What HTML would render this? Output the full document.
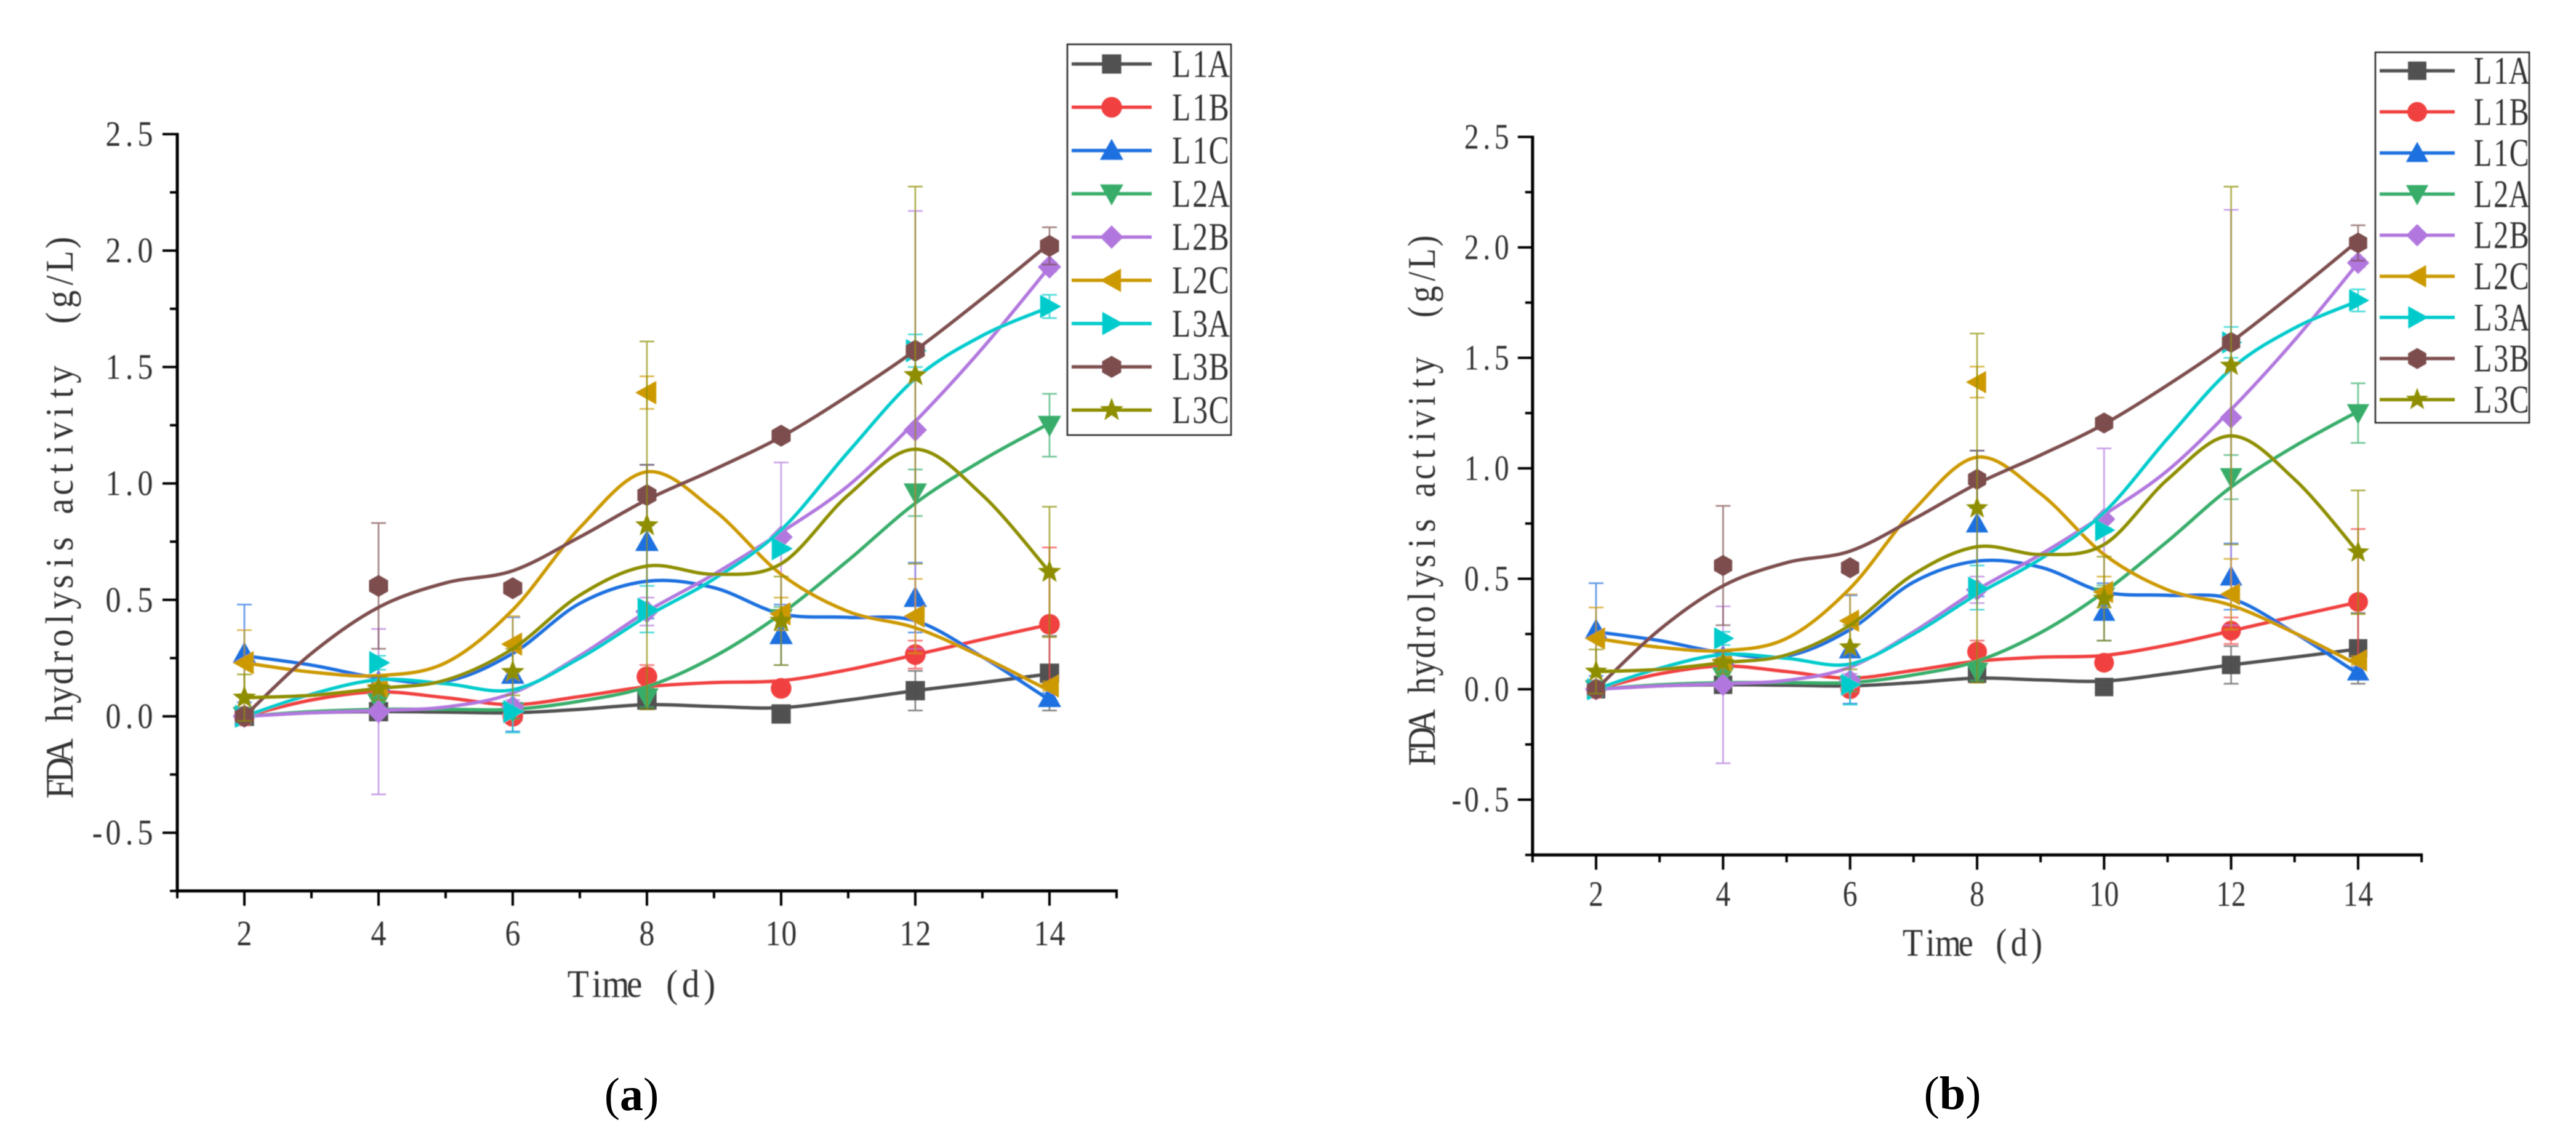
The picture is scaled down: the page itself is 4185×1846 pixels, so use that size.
<!DOCTYPE html>
<html lang="en">
<head>
<meta charset="utf-8">
<title>FDA hydrolysis activity charts</title>
<style>
html,body{margin:0;padding:0;background:#fff;}
svg{display:block;}
text{font-family:"Liberation Serif","Noto Serif CJK SC",serif;white-space:pre;}
</style>
</head>
<body>
<svg id="figure" xmlns="http://www.w3.org/2000/svg" width="4185" height="1846" viewBox="0 0 4185 1846">
  <defs><filter id="soft" x="-5%" y="-5%" width="110%" height="110%"><feGaussianBlur stdDeviation="0.9"/></filter></defs>
  <rect width="4185" height="1846" fill="#ffffff"/>
  <g id="panel-a" filter="url(#soft)"></g>
  <g id="panel-b" filter="url(#soft)"></g>
  <text x="1026" y="1804" font-size="76" text-anchor="middle" fill="#000">(<tspan font-weight="bold">a</tspan>)</text>
  <text x="3172" y="1802" font-size="76" text-anchor="middle" fill="#000">(<tspan font-weight="bold">b</tspan>)</text>
</svg>
<script>
const days = [2, 4, 6, 8, 10, 12, 14];
const curveDays = [2, 3, 4, 5, 6, 7, 8, 9, 10, 11, 12, 13, 14];
const xTickLabels = ["2", "4", "6", "8", "10", "12", "14"];
const yTickValues = [-0.5, 0, 0.5, 1, 1.5, 2, 2.5];
const yTickLabels = ["-0.5", "0.0", "0.5", "1.0", "1.5", "2.0", "2.5"];

const l1aMeans = [0, 0.02, 0.02, 0.07, 0.01, 0.11, 0.185];
const l1bMeans = [0, 0.105, 0, 0.17, 0.12, 0.265, 0.395];
const l1cMeans = [0.27, 0.15, 0.18, 0.75, 0.35, 0.51, 0.08];
const l2aMeans = [0, 0.06, 0.02, 0.08, 0.42, 0.96, 1.25];
const l2bMeans = [0, 0.02, 0.04, 0.45, 0.77, 1.23, 1.93];
const l2cMeans = [0.23, 0.13, 0.31, 1.39, 0.44, 0.43, 0.13];
const l3aMeans = [0, 0.23, 0.02, 0.46, 0.72, 1.57, 1.76];
const l3bMeans = [0, 0.56, 0.55, 0.95, 1.205, 1.57, 2.02];
const l3cMeans = [0.08, 0.12, 0.19, 0.82, 0.41, 1.465, 0.62];

const l1aErrors = [0, 0.01, 0.02, 0.04, 0.01, 0.085, 0.16];
const l1bErrors = [0, 0, 0.02, 0.05, 0.03, 0.06, 0.33];
const l1cErrors = [0.21, 0.01, 0.245, 0.33, 0.13, 0.15, 0.02];
const l2aErrors = [0.03, 0.02, 0.03, 0.04, 0.05, 0.1, 0.135];
const l2bErrors = [0, 0.355, 0.03, 0.06, 0.32, 0.94, 0.02];
const l2cErrors = [0.14, 0.02, 0.12, 0.07, 0.07, 0.16, 0.02];
const l3aErrors = [0.03, 0.03, 0.09, 0.1, 0.01, 0.07, 0.05];
const l3bErrors = [0.02, 0.27, 0.02, 0.13, 0.01, 0.01, 0.08];
const l3cErrors = [0.1, 0.05, 0.1, 0.79, 0.19, 0.81, 0.28];

const l1aCurve = [0, 0.015, 0.02, 0.018, 0.015, 0.03, 0.05, 0.042, 0.037, 0.07, 0.11, 0.145, 0.182];
const l1bCurve = [0, 0.07, 0.105, 0.08, 0.05, 0.085, 0.127, 0.145, 0.153, 0.2, 0.264, 0.33, 0.394];
const l1cCurve = [0.26, 0.22, 0.165, 0.15, 0.27, 0.485, 0.58, 0.552, 0.44, 0.425, 0.41, 0.255, 0.07];
const l2aCurve = [0, 0.02, 0.03, 0.03, 0.03, 0.065, 0.127, 0.256, 0.44, 0.67, 0.915, 1.1, 1.258];
const l2bCurve = [0, 0.015, 0.025, 0.04, 0.1, 0.26, 0.45, 0.61, 0.79, 0.99, 1.266, 1.58, 1.93];
const l2cCurve = [0.23, 0.19, 0.175, 0.23, 0.457, 0.81, 1.05, 0.885, 0.61, 0.45, 0.38, 0.255, 0.11];
const l3aCurve = [0, 0.095, 0.157, 0.14, 0.114, 0.25, 0.43, 0.59, 0.8, 1.135, 1.45, 1.635, 1.757];
const l3bCurve = [0, 0.27, 0.468, 0.573, 0.625, 0.77, 0.93, 1.06, 1.2, 1.377, 1.572, 1.795, 2.03];
const l3cCurve = [0.08, 0.09, 0.12, 0.155, 0.29, 0.52, 0.645, 0.61, 0.655, 0.95, 1.147, 0.95, 0.62];

const seriesNames = ["L1A", "L1B", "L1C", "L2A", "L2B", "L2C", "L3A", "L3B", "L3C"];
const seriesMeans = [l1aMeans, l1bMeans, l1cMeans, l2aMeans, l2bMeans, l2cMeans, l3aMeans, l3bMeans, l3cMeans];
const seriesErrors = [l1aErrors, l1bErrors, l1cErrors, l2aErrors, l2bErrors, l2cErrors, l3aErrors, l3bErrors, l3cErrors];
const seriesCurves = [l1aCurve, l1bCurve, l1cCurve, l2aCurve, l2bCurve, l2cCurve, l3aCurve, l3bCurve, l3cCurve];
const seriesColors = ["#515151", "#f14040", "#1a6fdf", "#37ad6b", "#b177de", "#cc9900", "#00cbcc", "#7d4e4e", "#8e8e00"];
const seriesShapes = ["square", "circle", "up", "down", "diamond", "left", "right", "hex", "star"];

const NS = "http://www.w3.org/2000/svg";
const INK = "#333333";

function make(parent, tag, attrs) {
  const el = document.createElementNS(NS, tag);
  for (const k in attrs) el.setAttribute(k, attrs[k]);
  parent.appendChild(el);
  return el;
}

function monoText(parent, str, x, y, cell, size, scale, anchor, rotate) {
  const g = make(parent, "g", {
    transform: "translate(" + x + " " + y + ")" + (rotate ? " rotate(-90)" : "") + " scale(" + scale + " 1)"
  });
  const total = str.length * cell / scale;
  const step = cell / scale;
  const start = anchor === "end" ? -total : anchor === "middle" ? -total / 2 : 0;
  const xs = [];
  for (let i = 0; i < str.length; i++) xs.push((start + (i + 0.5) * step).toFixed(1));
  const t = make(g, "text", {
    x: xs.join(" "),
    y: 0,
    "font-size": size,
    "text-anchor": "middle",
    fill: INK
  });
  t.textContent = str;
  return t;
}

function polygonPoints(cx, cy, pts) {
  return pts.map(function (p) { return (cx + p[0]).toFixed(1) + "," + (cy + p[1]).toFixed(1); }).join(" ");
}

function drawMarker(parent, shape, cx, cy, color, k) {
  if (shape === "circle") return make(parent, "circle", { cx: cx, cy: cy, r: 15 * k, fill: color });
  if (shape === "square") return make(parent, "rect", { x: cx - 14 * k, y: cy - 14 * k, width: 28 * k, height: 28 * k, fill: color });
  const a = 17 * k;
  let pts = [];
  if (shape === "up") pts = [[0, -a], [a, a * 0.8], [-a, a * 0.8]];
  if (shape === "down") pts = [[0, a], [a, -a * 0.8], [-a, -a * 0.8]];
  if (shape === "left") pts = [[-a, 0], [a * 0.8, -a], [a * 0.8, a]];
  if (shape === "right") pts = [[a, 0], [-a * 0.8, -a], [-a * 0.8, a]];
  if (shape === "diamond") pts = [[0, -a], [a, 0], [0, a], [-a, 0]];
  if (shape === "hex") {
    for (let i = 0; i < 6; i++) {
      const ang = Math.PI / 6 + i * Math.PI / 3;
      pts.push([Math.cos(ang) * 16 * k, Math.sin(ang) * 16 * k]);
    }
  }
  if (shape === "star") {
    for (let i = 0; i < 10; i++) {
      const r = i % 2 ? 7.5 * k : 18 * k;
      const ang = -Math.PI / 2 + i * Math.PI / 5;
      pts.push([Math.cos(ang) * r, Math.sin(ang) * r]);
    }
  }
  return make(parent, "polygon", { points: polygonPoints(cx, cy, pts), fill: color });
}

function curvePath(xs, ys, sx, sy) {
  const p = xs.map(function (v, i) { return [sx(v), sy(ys[i])]; });
  let d = "M" + p[0][0].toFixed(1) + " " + p[0][1].toFixed(1);
  for (let i = 0; i < p.length - 1; i++) {
    const p0 = p[Math.max(i - 1, 0)], p1 = p[i], p2 = p[i + 1], p3 = p[Math.min(i + 2, p.length - 1)];
    const c1x = p1[0] + (p2[0] - p0[0]) / 6, c1y = p1[1] + (p2[1] - p0[1]) / 6;
    const c2x = p2[0] - (p3[0] - p1[0]) / 6, c2y = p2[1] - (p3[1] - p1[1]) / 6;
    d += "C" + c1x.toFixed(1) + " " + c1y.toFixed(1) + " " + c2x.toFixed(1) + " " + c2y.toFixed(1) + " " + p2[0].toFixed(1) + " " + p2[1].toFixed(1);
  }
  return d;
}

function drawPanel(root, cfg) {
  const sx = function (v) { return cfg.x2 + (v - 2) * (cfg.x14 - cfg.x2) / 12; };
  const sy = function (v) { return cfg.y0 + (cfg.y2 - cfg.y0) * v / 2; };
  const left = sx(1), right = sx(15), top = sy(2.5), bottom = sy(-0.75);

  const axes = make(root, "g", {});
  
  
  const yAxis = make(axes, "line", { x1: left, y1: top - 2, x2: left, y2: bottom + 2, stroke: "#000", "stroke-width": 5 });
  
  
  const xAxis = make(axes, "line", { x1: left - 2, y1: bottom, x2: right + 2, y2: bottom, stroke: "#000", "stroke-width": 5 });
  
  

  for (let v = -0.75; v <= 2.5; v += 0.25) {
    const major = Math.abs(v * 2 - Math.round(v * 2)) < 1e-6;
    const tick = make(axes, "line", { x1: left - (major ? 24 : 12), y1: sy(v), x2: left, y2: sy(v), stroke: "#000", "stroke-width": 4 });
    
    
  }
  for (let v = 1; v <= 15; v += 1) {
    const major = v % 2 === 0;
    const tick = make(axes, "line", { x1: sx(v), y1: bottom, x2: sx(v), y2: bottom + (major ? 24 : 12), stroke: "#000", "stroke-width": 4 });
    
    
  }
  yTickValues.forEach(function (v, i) {
    const label = monoText(axes, yTickLabels[i], cfg.yLabelRight, sy(v) + 19, cfg.tickCell, 58, cfg.tickScale, "end");
    
    
  });
  days.forEach(function (v, i) {
    const label = monoText(axes, xTickLabels[i], sx(v), cfg.xLabelY, cfg.tickCell, 58, cfg.tickScale, "middle");
    
    
  });
  const yTitle = monoText(axes, "FDA hydrolysis activity  (g/L)", cfg.yTitleX, cfg.yTitleStart, cfg.yTitleCell, 64, cfg.yTitleCell / 30 * 0.88, "start", true);
  
  
  const xTitle = monoText(axes, "Time (d)", cfg.xTitleX, cfg.xTitleY, cfg.xTitleCell, 64, cfg.xTitleCell / 30 * 0.88, "start");
  
  

  seriesNames.forEach(function (name, s) {
    const color = seriesColors[s];
    const g = make(root, "g", {});
    
    
    const line = make(g, "path", { d: curvePath(curveDays, seriesCurves[s], sx, sy), fill: "none", stroke: color, "stroke-width": 5.5, "stroke-linecap": "round" });
    
    
    days.forEach(function (d, i) {
      const m = seriesMeans[s][i], e = seriesErrors[s][i];
      const cx = sx(d);
      const marker = drawMarker(g, seriesShapes[s], cx, sy(m), color, cfg.markerScale);
      
      
      const bar = make(g, "path", {
        d: "M" + cx + " " + sy(m + e) + "V" + sy(m - e) +
           "M" + (cx - 12) + " " + sy(m + e) + "h24" +
           "M" + (cx - 12) + " " + sy(m - e) + "h24",
        fill: "none", stroke: color, "stroke-width": 2.6, "stroke-opacity": 0.72
      });
      
      
    });
  });

  const legend = make(root, "g", {});
  
  
  const box = make(legend, "rect", { x: cfg.legX1, y: cfg.legY1, width: cfg.legX2 - cfg.legX1, height: cfg.legY2 - cfg.legY1, fill: "#fff", "fill-opacity": 0, stroke: "#222", "stroke-width": 2.5 });
  
  
  seriesNames.forEach(function (name, s) {
    const y = cfg.legFirst + s * cfg.legStep;
    const entry = make(legend, "g", {});
    
    
    make(entry, "line", { x1: cfg.legLine1, y1: y, x2: cfg.legLine2, y2: y, stroke: seriesColors[s], "stroke-width": 5.5 });
    drawMarker(entry, seriesShapes[s], (cfg.legLine1 + cfg.legLine2) / 2, y, seriesColors[s], cfg.markerScale);
    monoText(entry, name, cfg.legText, y + 21, cfg.legCell, 64, cfg.legCell / 30 * 0.76, "start");
  });
}

const panelGeometryA = {
  x2: 397, x14: 1705, y0: 1164, y2: 407.2, markerScale: 1.12,
  yLabelRight: 249, xLabelY: 1536, tickCell: 26, tickScale: 0.86,
  yTitleX: 118, yTitleStart: 1297, yTitleCell: 30.6,
  xTitleX: 924, xTitleY: 1620, xTitleCell: 30.5,
  legX1: 1734, legX2: 2000, legY1: 72, legY2: 707, legFirst: 104, legStep: 70.3,
  legLine1: 1741, legLine2: 1871, legText: 1904, legCell: 30.5
};
const panelGeometryB = {
  x2: 2593, x14: 3831, y0: 1120, y2: 402, markerScale: 1.07,
  yLabelRight: 2452, xLabelY: 1472, tickCell: 24.5, tickScale: 0.82,
  yTitleX: 2331, yTitleStart: 1244, yTitleCell: 28.9,
  xTitleX: 3093, xTitleY: 1553, xTitleCell: 28.8,
  legX1: 3859, legX2: 4109, legY1: 85, legY2: 687, legFirst: 115, legStep: 66.8,
  legLine1: 3866, legLine2: 3988, legText: 4019, legCell: 29.5
};

drawPanel(document.getElementById("panel-a"), panelGeometryA);
drawPanel(document.getElementById("panel-b"), panelGeometryB);
</script>
</body>
</html>
